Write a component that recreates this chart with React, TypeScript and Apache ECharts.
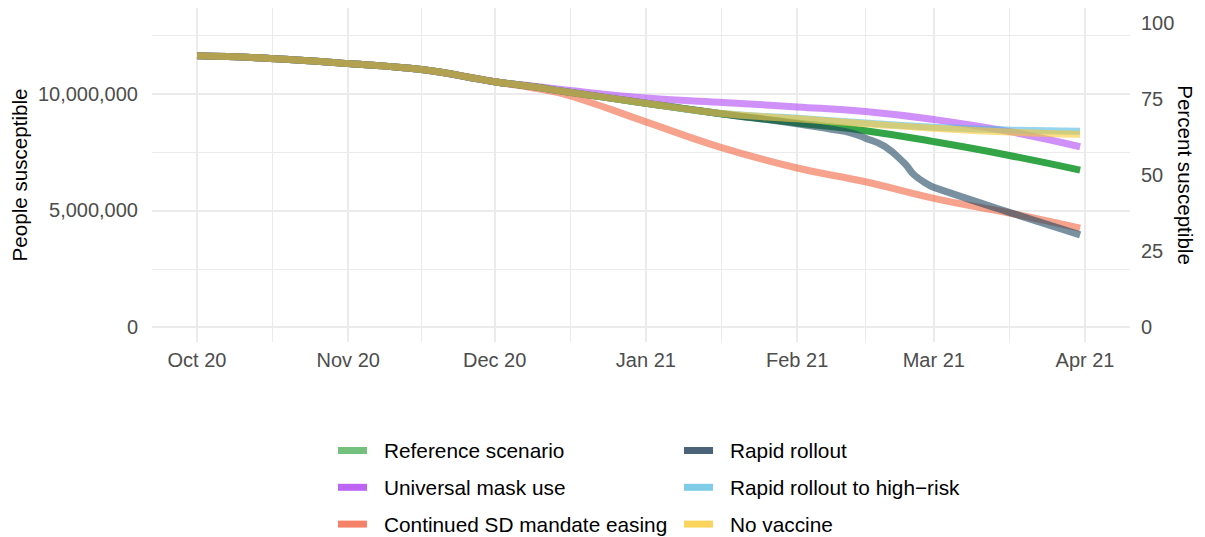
import React, { useEffect, useRef } from "react";
import * as echarts from "echarts";

// ---- data (values in millions of people) ----
const POPULATION = 13040000;

const DATES = [
  "2020-10-01", "2020-10-16", "2020-11-01", "2020-11-16", "2020-12-01",
  "2020-12-09", "2020-12-16", "2021-01-01", "2021-01-16", "2021-02-01",
  "2021-02-15", "2021-03-01", "2021-03-16", "2021-03-31",
];
const REFERENCE = [11.63, 11.52, 11.3, 11.04, 10.52, 10.3, 10.08, 9.6, 9.16, 8.75, 8.42, 7.95, 7.38, 6.73];
const MASK = [11.63, 11.52, 11.3, 11.04, 10.52, 10.33, 10.15, 9.82, 9.64, 9.44, 9.24, 8.9, 8.4, 7.73];
const SD_EASING = [11.63, 11.52, 11.3, 11.04, 10.52, 10.25, 9.94, 8.8, 7.73, 6.82, 6.23, 5.52, 4.91, 4.24];
const HIGH_RISK = [11.63, 11.52, 11.3, 11.04, 10.52, 10.3, 10.08, 9.6, 9.17, 8.95, 8.75, 8.57, 8.45, 8.4];
const NO_VACCINE = [11.63, 11.52, 11.3, 11.04, 10.52, 10.3, 10.08, 9.6, 9.17, 8.93, 8.72, 8.52, 8.36, 8.27];

const RAPID_DATES = [
  "2020-10-01", "2020-10-16", "2020-11-01", "2020-11-16", "2020-12-01",
  "2020-12-09", "2020-12-16", "2021-01-01", "2021-01-16", "2021-02-01",
  "2021-02-08", "2021-02-12", "2021-02-15", "2021-02-19", "2021-02-23",
  "2021-02-25", "2021-02-28", "2021-03-01", "2021-03-16", "2021-03-31",
];
const RAPID = [11.63, 11.52, 11.3, 11.04, 10.52, 10.3, 10.08, 9.6, 9.16, 8.72, 8.48, 8.33, 8.1, 7.74, 7.02, 6.52, 6.09, 5.99, 4.95, 3.95];

const MONTH_TICKS = ["2020-10-01", "2020-11-01", "2020-12-01", "2021-01-01", "2021-02-01", "2021-03-01", "2021-04-01"];
const LEFT_LABELS = [0, 5000000, 10000000];
const LEFT_MINOR = [2500000, 7500000, 12500000];
const RIGHT_LABELS = [0, 25, 50, 75, 100];

const NAMES = [
  "Reference scenario",
  "Universal mask use",
  "Continued SD mandate easing",
  "Rapid rollout",
  "Rapid rollout to high\u2212risk",
  "No vaccine",
];
const LEGEND_COLORS = ["#73C17D", "#BE64F5", "#F48269", "#4A6378", "#7FCCE8", "#FAD45C"];
const LINE_COLORS = [
  "rgba(40,160,60,0.95)",
  "rgba(175,70,245,0.6)",
  "rgba(240,100,65,0.6)",
  "rgba(30,70,95,0.6)",
  "rgba(80,185,225,0.6)",
  "rgba(250,200,50,0.6)",
];

const MONTHS = ["Jan", "Feb", "Mar", "Apr", "May", "Jun", "Jul", "Aug", "Sep", "Oct", "Nov", "Dec"];
const FONT = "'Liberation Sans', Arial, sans-serif";

export default function App() {
  const ref = useRef<HTMLDivElement>(null);

  useEffect(() => {
    if (!ref.current) return;
    const chart = echarts.init(ref.current, undefined, { renderer: "svg" });

    const toPairs = (dates: string[], vals: number[]) =>
      dates.map((d, i) => [Date.parse(d), vals[i] * 1e6]);

    const major = MONTH_TICKS.map((d) => Date.parse(d));
    const minor = major.slice(0, -1).map((t, i) => (t + major[i + 1]) / 2);

    const dayMs = 86400000;
    const xMin = major[0] - 9.22 * dayMs;
    const xMax = major[major.length - 1] + 9.22 * dayMs;

    const yMin = -640000;
    const yMax = 13680000;

    const fmtDate = (v: number) => {
      const d = new Date(v);
      return `${MONTHS[d.getUTCMonth()]} ${String(d.getUTCFullYear()).slice(2)}`;
    };

    const seriesData = [
      toPairs(DATES, REFERENCE),
      toPairs(DATES, MASK),
      toPairs(DATES, SD_EASING),
      toPairs(RAPID_DATES, RAPID),
      toPairs(DATES, HIGH_RISK),
      toPairs(DATES, NO_VACCINE),
    ];
    // drawing order (bottom to top)
    const drawOrder = [0, 1, 2, 4, 3, 5];

    const legendStyle = {
      orient: "vertical" as const,
      icon: "rect",
      itemWidth: 29,
      itemHeight: 7,
      itemGap: 15.8,
      padding: 0,
      selectedMode: false,
      textStyle: {
        fontSize: 20.8,
        lineHeight: 20,
        color: "#000",
        fontFamily: FONT,
        padding: [0, 0, 0, 12],
      },
    };

    chart.setOption({
      animation: false,
      backgroundColor: "#fff",
      grid: { left: 152, right: 75, top: 8, bottom: 195, containLabel: false, outerBoundsMode: "none" },
      legend: [
        {
          ...legendStyle,
          left: 338,
          top: 440,
          data: [0, 1, 2].map((i) => ({ name: NAMES[i], itemStyle: { color: LEGEND_COLORS[i] } })),
        },
        {
          ...legendStyle,
          left: 684,
          top: 440,
          data: [3, 4, 5].map((i) => ({ name: NAMES[i], itemStyle: { color: LEGEND_COLORS[i] } })),
        },
      ],
      xAxis: [
        {
          type: "value",
          min: xMin,
          max: xMax,
          axisLine: { show: false },
          axisTick: { show: false, customValues: major },
          axisLabel: {
            customValues: major,
            formatter: (v: number) => fmtDate(v),
            color: "#4D4D4D",
            fontSize: 20,
            fontFamily: FONT,
            margin: 8,
          },
          splitLine: { show: true, lineStyle: { color: "#EBEBEB", width: 2 } },
        },
        {
          type: "value",
          min: xMin,
          max: xMax,
          position: "bottom",
          axisLine: { show: false },
          axisTick: { show: false, customValues: minor },
          axisLabel: { show: false },
          splitLine: { show: true, lineStyle: { color: "#EBEBEB", width: 1 } },
        },
      ],
      yAxis: [
        {
          type: "value",
          position: "left",
          min: yMin,
          max: yMax,
          axisLine: { show: false },
          axisTick: { show: false, customValues: LEFT_LABELS },
          axisLabel: {
            customValues: LEFT_LABELS,
            formatter: (v: number) => Math.round(v).toLocaleString("en-US"),
            color: "#4D4D4D",
            fontSize: 20,
            fontFamily: FONT,
            margin: 14,
          },
          splitLine: { show: true, lineStyle: { color: "#EBEBEB", width: 2 } },
          name: "People susceptible",
          nameLocation: "middle",
          nameMoveOverlap: false,
          nameGap: 133,
          nameTextStyle: {
            fontSize: 20.6,
            color: "#000",
            fontFamily: FONT,
            align: "center",
            verticalAlign: "middle",
          },
        },
        {
          type: "value",
          position: "left",
          min: yMin,
          max: yMax,
          axisLine: { show: false },
          axisTick: { show: false, customValues: LEFT_MINOR },
          axisLabel: { show: false },
          splitLine: { show: true, lineStyle: { color: "#EBEBEB", width: 1 } },
        },
        {
          type: "value",
          position: "right",
          min: (yMin / POPULATION) * 100,
          max: (yMax / POPULATION) * 100,
          axisLine: { show: false },
          axisTick: { show: false, customValues: RIGHT_LABELS },
          axisLabel: {
            customValues: RIGHT_LABELS,
            color: "#4D4D4D",
            fontSize: 20,
            fontFamily: FONT,
            margin: 11,
          },
          splitLine: { show: false },
          name: "Percent susceptible",
          nameLocation: "middle",
          nameMoveOverlap: false,
          nameRotate: -90,
          nameGap: 55,
          nameTextStyle: {
            fontSize: 20.6,
            color: "#000",
            fontFamily: FONT,
            align: "center",
            verticalAlign: "middle",
          },
        },
      ],
      series: drawOrder.map((i, k) => ({
        name: NAMES[i],
        type: "line",
        xAxisIndex: 0,
        yAxisIndex: 0,
        data: seriesData[i],
        showSymbol: false,
        symbol: "none",
        smooth: 0.45,
        z: 2 + k,
        color: LEGEND_COLORS[i],
        lineStyle: { width: 7, color: LINE_COLORS[i], cap: "butt", join: "round" },
        emphasis: { disabled: true },
      })),
    });

    return () => chart.dispose();
  }, []);

  return (
    <div
      ref={ref}
      style={{ position: "fixed", left: 0, top: 0, width: 1205, height: 537, background: "#fff" }}
    />
  );
}
